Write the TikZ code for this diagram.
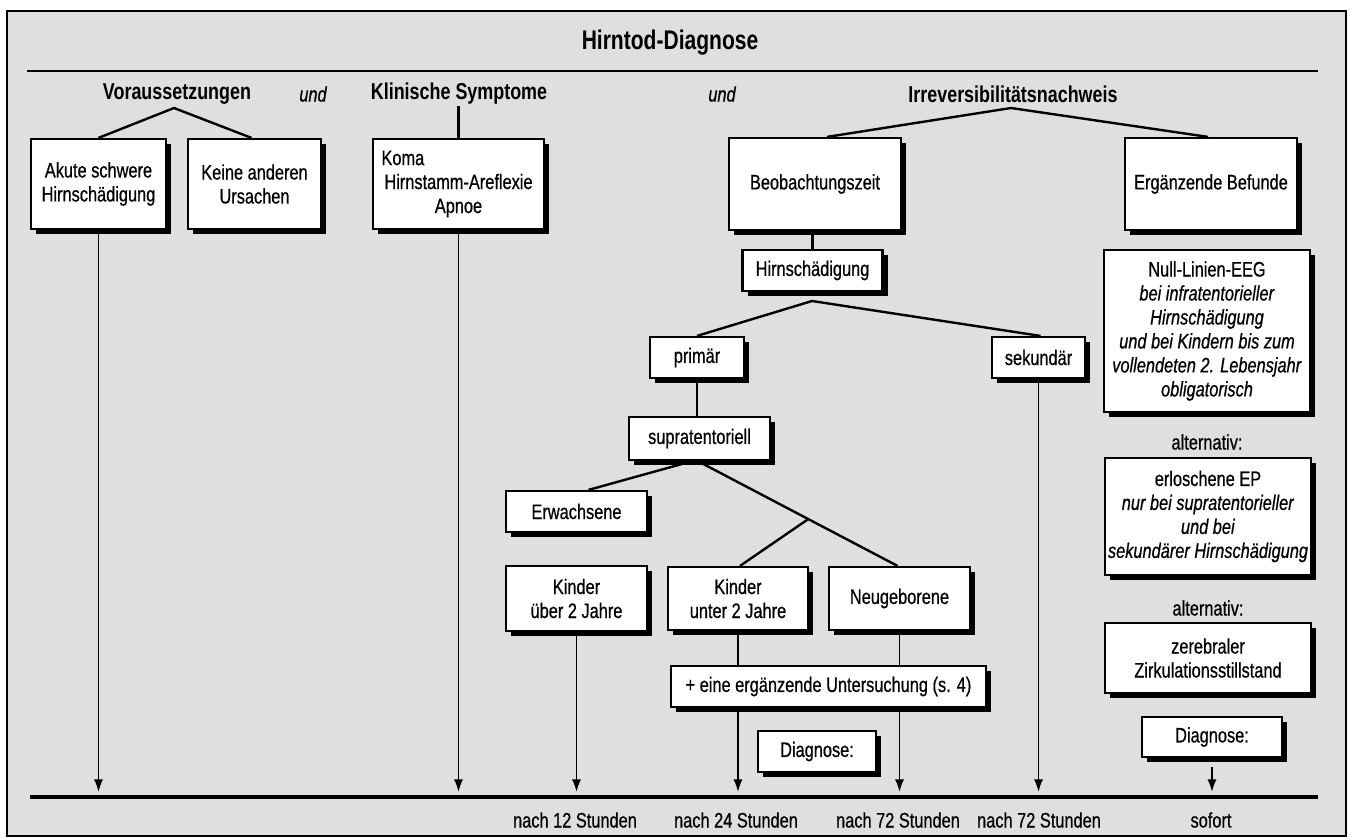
\documentclass[tikz,border=0pt]{standalone}
\usepackage{fontspec}
\setmainfont{Liberation Sans}[FakeStretch=0.78,UprightFeatures={FakeBold=0.6},ItalicFeatures={FakeBold=0.6}]
\usepackage{tikz}
\usetikzlibrary{arrows.meta,shadows,calc}
\definecolor{panel}{HTML}{DFDFDF}

\begin{document}
\begin{tikzpicture}[x=0.0176cm,y=-0.0176cm,
  box/.style={draw,fill=white,line width=1.1pt,inner sep=0pt,align=center,font=\fontsize{10.5}{12}\selectfont,
    drop shadow={shadow xshift=0.09cm,shadow yshift=-0.09cm,fill=black,opacity=1}},
  bsize/.style 2 args={minimum width=#1*0.0176cm,minimum height=#2*0.0176cm},
  head/.style={font=\fontsize{11.5}{13}\selectfont\bfseries},
  txt/.style={font=\fontsize{10.5}{12}\selectfont},
  link/.style={line width=1.2pt},
  vline/.style={line width=0.8pt},
  arr/.style={vline,-{Latex[length=2.2mm,width=1.6mm]},shorten >=0.09cm}]

\fill[white] (0,0) rectangle (1353,839);
\useasboundingbox (0,0) rectangle (1353,839);
\draw[fill=panel,line width=0.6pt] (7,11) rectangle (1346,836);

\node[font=\fontsize{13.5}{15}\selectfont\bfseries] (title) at (670,43) {Hirntod-Diagnose};
\coordinate (tlL) at (27,71); \coordinate (tlR) at (1318,71);
\draw[line width=0.6pt] (tlL) -- (tlR);

\node[head] (vor) at (177,94) {Voraussetzungen};
\node[txt,font=\fontsize{10.5}{12}\selectfont\itshape] (und1) at (313,94) {und};
\node[head] (klin) at (459,94) {Klinische Symptome};
\node[txt,font=\fontsize{10.5}{12}\selectfont\itshape] (und2) at (722,94) {und};
\node[head] (irrev) at (1013,94) {Irreversibilitätsnachweis};

\node[box,bsize={135}{90}] (akut) at (98.5,184) {Akute schwere\\Hirnschädigung};
\node[box,bsize={133}{90}] (keine) at (254.5,184) {Keine anderen\\Ursachen};
\node[box,bsize={171}{90},text width=2.71cm] (koma) at (458.5,184) {\makebox[\linewidth][l]{Koma}\\Hirnstamm-Areflexie\\Apnoe};
\node[box,bsize={172}{92}] (beob) at (815,184) {Beobachtungszeit};
\node[box,bsize={172}{92}] (ergbef) at (1211,184) {Ergänzende Befunde};

\node[box,bsize={140}{41}] (hirnsch) at (812.5,270.5) {Hirnschädigung};
\node[box,bsize={94}{41}] (primaer) at (697,357.5) {primär};
\node[box,bsize={93}{41}] (sekundaer) at (1038.5,357.5) {sekundär};
\node[box,bsize={141}{43}] (supra) at (699.5,438.5) {supratentoriell};
\node[box,bsize={141}{41}] (erw) at (576.5,511.5) {Erwachsene};
\node[box,bsize={141}{65}] (kueber) at (576.5,598.5) {Kinder\\über 2 Jahre};
\node[box,bsize={140}{63}] (kunter) at (738,598.5) {Kinder\\unter 2 Jahre};
\node[box,bsize={141}{63}] (neug) at (899.5,598.5) {Neugeborene};
\node[box,bsize={315}{41}] (ergunt) at (828.5,686.5) {+ eine ergänzende Untersuchung (s. 4)};
\node[box,bsize={118}{41}] (diag1) at (817,751.5) {Diagnose:};

\node[box,bsize={206}{162}] (nulleeg) at (1207,331) {Null-Linien-EEG\\\textit{bei infratentorieller}\\\textit{Hirnschädigung}\\\textit{und bei Kindern bis zum}\\\textit{vollendeten 2. Lebensjahr}\\\textit{obligatorisch}};
\node[txt] (alt1) at (1207,442) {alternativ:};
\node[box,bsize={206}{117}] (erlep) at (1208,516.5) {erloschene EP\\\textit{nur bei supratentorieller}\\\textit{und bei}\\\textit{sekundärer Hirnschädigung}};
\node[txt] (alt2) at (1208,608) {alternativ:};
\node[box,bsize={206}{70}] (zereb) at (1208,658) {zerebraler\\Zirkulationsstillstand};
\node[box,bsize={140}{40}] (diag2) at (1212,737) {Diagnose:};

\coordinate (vorA) at (174,108);
\draw[link] (akut.north) -- (vorA) -- ($(keine.north)+(-3,0)$);
\draw[link] (koma.north) -- ++(0,-32);
\coordinate (irrA) at (1011,108);
\draw[link] ($(beob.north)+(12,0)$) -- (irrA) -- ($(ergbef.north)+(-3,0)$);
\draw[link] (hirnsch.north |- beob.south) -- (hirnsch.north);
\coordinate (hirA) at (812,301);
\draw[link] (primaer.north) -- (hirA) -- ($(sekundaer.north)+(2,0)$);
\draw[link] (primaer.south) -- (primaer.south |- supra.north);
\draw[link] ($(supra.south)+(-18,3)$) -- ($(erw.north)+(12,0)$);
\draw[link] ($(supra.south)+(4,3)$) coordinate (s1) -- ($(neug.north)+(-2,0)$) coordinate (s2);
\draw[link] ($(s1)!0.54!(s2)$) -- ($(kunter.north)+(2,0)$);

\coordinate (axL) at (30,797); \coordinate (axR) at (1318,797);
\draw[line width=1.6pt] (axL) -- (axR);
\foreach \n in {akut,koma,kueber,sekundaer}
  \draw[arr] (\n.south) -- (\n.south |- axL);
\foreach \n in {kunter,neug}{
  \draw[vline] (\n.south) -- (\n.south |- ergunt.north);
  \draw[arr] (\n.south |- ergunt.south) -- (\n.south |- axL);
}
\draw[arr,shorten <=0.16cm] (diag2.south) -- (diag2.south |- axL);

\node[txt] (t12) at (575,820) {nach 12 Stunden};
\node[txt] (t24) at (736,820) {nach 24 Stunden};
\node[txt] (t72a) at (898,820) {nach 72 Stunden};
\node[txt] (t72b) at (1039,820) {nach 72 Stunden};
\node[txt] (tsof) at (1211,820) {sofort};
\end{tikzpicture}
\end{document}
